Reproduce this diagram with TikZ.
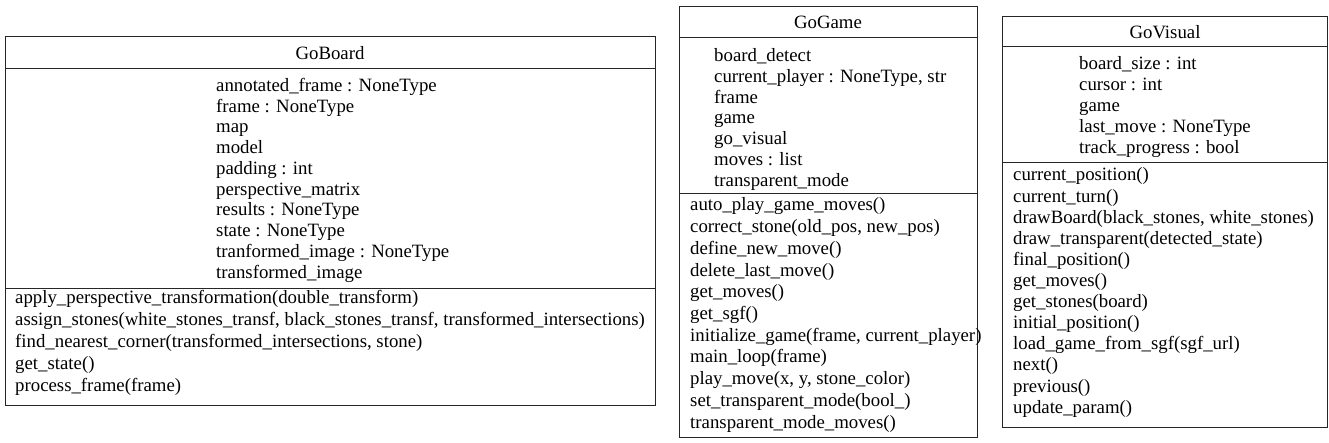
\documentclass[tikz,border=0pt]{standalone}
\usepackage{fontspec}
\setmainfont{Liberation Serif}
\tikzset{
  classbox/.style={draw=black!85, line width=1pt},
  sepline/.style={draw=black!85, line width=1pt},
  member/.style={anchor=base west, inner sep=0pt, font=\fontsize{18.8}{21}\selectfont},
  classtitle/.style={anchor=base, inner sep=0pt, font=\fontsize{18.8}{21}\selectfont},
}
\begin{document}
\begin{tikzpicture}[x=1pt,y=-1pt]
\useasboundingbox (0,0) rectangle (1329,443);
% ---------- GoBoard ----------
\coordinate (gbNW) at (5,37);
\coordinate (gbSE) at (655,405);
\draw[classbox] (gbNW) rectangle (gbSE);
\draw[sepline] (5,69) coordinate (gbH1) -- (655,69) coordinate (gbH2);
\draw[sepline] (5,289) coordinate (gbS1) -- (655,289) coordinate (gbS2);
\node[classtitle] (gbT) at (330,59.5) {GoBoard};
\foreach \t [count=\i from 0] in {annotated\_frame : NoneType, frame : NoneType, map, model, padding : int, perspective\_matrix, results : NoneType, state : NoneType, tranformed\_image : NoneType, transformed\_image}
  \node[member] (gbA\i) at (216,{91.5+20.75*\i}) {\t};
\foreach \t [count=\i from 0] in {apply\_perspective\_transformation(double\_transform), {assign\_stones(white\_stones\_transf, black\_stones\_transf, transformed\_intersections)}, {find\_nearest\_corner(transformed\_intersections, stone)}, get\_state(), process\_frame(frame)}
  \node[member] (gbM\i) at (15,{303+22*\i}) {\t};
% ---------- GoGame ----------
\coordinate (ggNW) at (679,7);
\coordinate (ggSE) at (977,437);
\draw[classbox] (ggNW) rectangle (ggSE);
\draw[sepline] (679,38) coordinate (ggH1) -- (977,38) coordinate (ggH2);
\draw[sepline] (679,194) coordinate (ggS1) -- (977,194) coordinate (ggS2);
\node[classtitle] (ggT) at (828,28.5) {GoGame};
\foreach \t [count=\i from 0] in {board\_detect, {current\_player : NoneType, str}, frame, game, go\_visual, moves : list, transparent\_mode}
  \node[member] (ggA\i) at (714,{61.5+20.8*\i}) {\t};
\foreach \t [count=\i from 0] in {auto\_play\_game\_moves(), {correct\_stone(old\_pos, new\_pos)}, define\_new\_move(), delete\_last\_move(), get\_moves(), get\_sgf(), {initialize\_game(frame, current\_player)}, main\_loop(frame), {play\_move(x, y, stone\_color)}, set\_transparent\_mode(bool\_), transparent\_mode\_moves()}
  \node[member] (ggM\i) at (690,{211+21.7*\i}) {\t};
% ---------- GoVisual ----------
\coordinate (gvNW) at (1002,17);
\coordinate (gvSE) at (1327,427);
\draw[classbox] (gvNW) rectangle (gvSE);
\draw[sepline] (1002,47) coordinate (gvH1) -- (1327,47) coordinate (gvH2);
\draw[sepline] (1002,163) coordinate (gvS1) -- (1327,163) coordinate (gvS2);
\node[classtitle] (gvT) at (1165,39) {GoVisual};
\foreach \t [count=\i from 0] in {board\_size : int, cursor : int, game, last\_move : NoneType, track\_progress : bool}
  \node[member] (gvA\i) at (1079,{70+20.8*\i}) {\t};
\foreach \t [count=\i from 0] in {current\_position(), current\_turn(), {drawBoard(black\_stones, white\_stones)}, draw\_transparent(detected\_state), final\_position(), get\_moves(), get\_stones(board), initial\_position(), load\_game\_from\_sgf(sgf\_url), next(), previous(), update\_param()}
  \node[member] (gvM\i) at (1013,{181+21.1*\i}) {\t};
\end{tikzpicture}
\end{document}
